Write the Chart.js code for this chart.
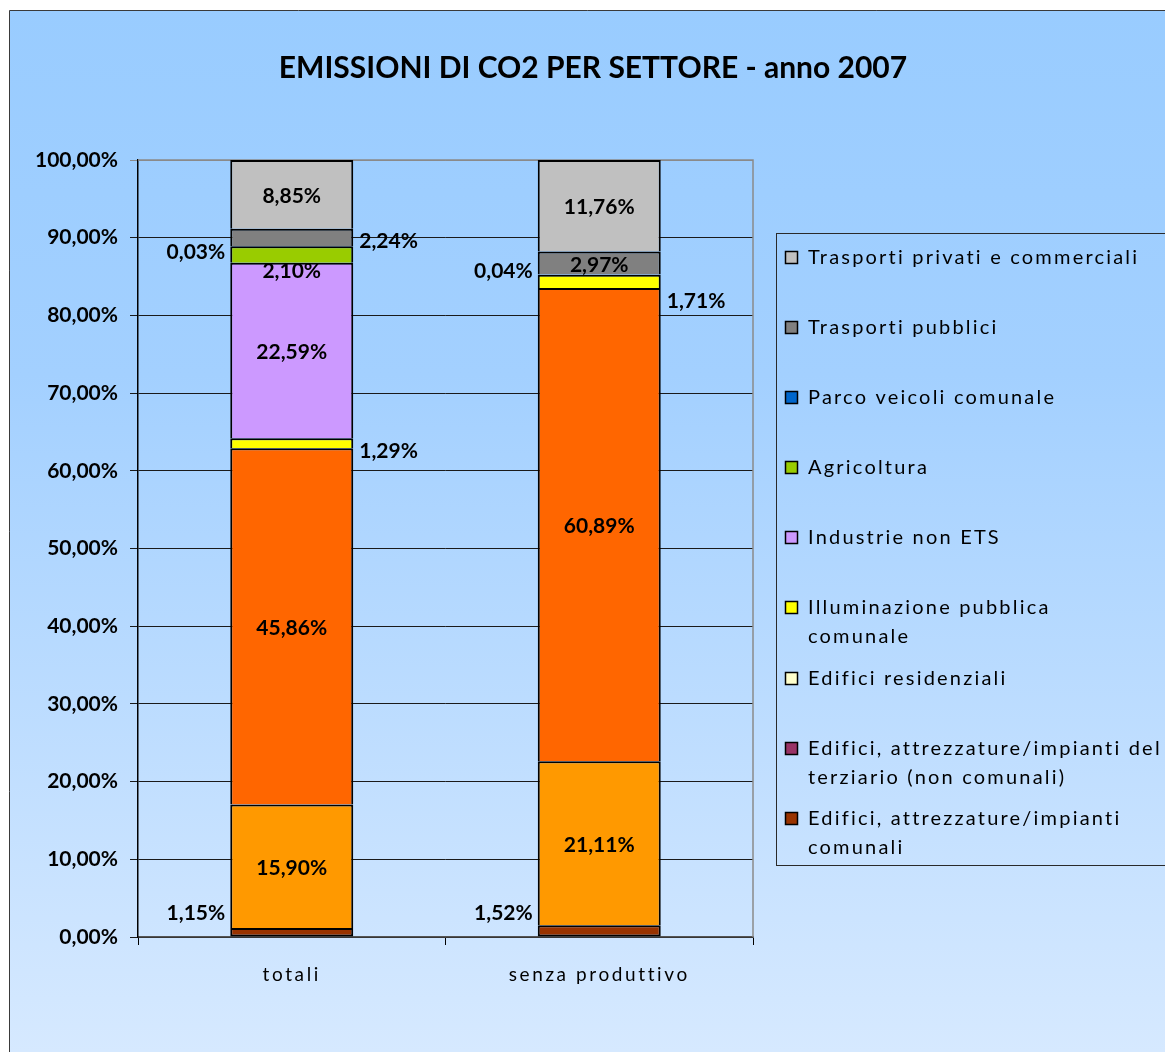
<!DOCTYPE html>
<html>
<head>
<meta charset="utf-8">
<title>Emissioni di CO2 per settore - anno 2007</title>
<script src="https://cdn.jsdelivr.net/npm/chart.js@4"></script>
<style>
  html, body { margin: 0; padding: 0; background: #fff; }
  canvas { display: block; }
</style>
</head>
<body>
<canvas id="co2Chart" width="1165" height="1052"></canvas>
<script>
// categories and series (bottom of the stack first)
var categories = ['totali', 'senza produttivo'];
var seriesNames = [
  'Edifici, attrezzature/impianti comunali',
  'Edifici, attrezzature/impianti del terziario (non comunali)',
  'Edifici residenziali',
  'Illuminazione pubblica comunale',
  'Industrie non ETS',
  'Agricoltura',
  'Parco veicoli comunale',
  'Trasporti pubblici',
  'Trasporti privati e commerciali'
];
var edificiComunali = [1.15, 1.52];
var edificiTerziario = [15.90, 21.11];
var edificiResidenziali = [45.86, 60.89];
var illuminazione = [1.29, 1.71];
var industrie = [22.59, 0];
var agricoltura = [2.10, 0];
var parcoVeicoli = [0.03, 0.04];
var trasportiPubblici = [2.24, 2.97];
var trasportiPrivati = [8.85, 11.76];
var yTicks = [0, 10, 20, 30, 40, 50, 60, 70, 80, 90, 100];

var seriesValues = [edificiComunali, edificiTerziario, edificiResidenziali, illuminazione,
  industrie, agricoltura, parcoVeicoli, trasportiPubblici, trasportiPrivati];

// bar fills and legend swatches
var barColors = ['#993300', '#FF9900', '#FF6600', '#FFFF00', '#CC99FF', '#99CC00', '#0066CC', '#808080', '#C0C0C0'];
var legendColors = ['#993300', '#993366', '#FFFFCC', '#FFFF00', '#CC99FF', '#99CC00', '#0066CC', '#808080', '#C0C0C0'];
// legend rows, drawn top to bottom (wrapped lines kept apart)
var legendLines = [
  ['Trasporti privati e commerciali'],
  ['Trasporti pubblici'],
  ['Parco veicoli comunale'],
  ['Agricoltura'],
  ['Industrie non ETS'],
  ['Illuminazione pubblica', 'comunale'],
  ['Edifici residenziali'],
  ['Edifici, attrezzature/impianti del', 'terziario (non comunali)'],
  ['Edifici, attrezzature/impianti', 'comunali']
];
var legendRowY = [258, 328, 398, 468, 538, 608, 679, 749, 819];

// where each value label sits: c = inside, l = left of bar, r = right of bar; dy in px
var labelPlace = {
  '0-0': ['l', -19], '0-1': ['l', -18],
  '3-0': ['r', 8], '3-1': ['r', 20],
  '5-0': ['c', 17],
  '6-0': ['l', 6], '6-1': ['l', -3],
  '7-0': ['r', 4]
};

var FONT = 'Lato, "Open Sans", sans-serif';

function pct(v) {
  return v.toFixed(2).replace('.', ',') + '%';
}

// each segment draws its own top edge, so neighbours share a single line
var datasets = seriesNames.map(function (name, i) {
  return {
    label: name,
    data: seriesValues[i],
    backgroundColor: barColors[i],
    borderColor: '#000000',
    borderWidth: { top: 2, left: 2, right: 2, bottom: i === 0 ? 2 : 0 },
    borderSkipped: false
  };
});

var framePlugin = {
  id: 'frame',
  beforeDraw: function (chart) {
    var ctx = chart.ctx;
    ctx.save();
    ctx.fillStyle = '#ffffff';
    ctx.fillRect(0, 0, chart.width, chart.height);
    var grad = ctx.createLinearGradient(0, 10, 0, chart.height);
    grad.addColorStop(0, '#99CCFF');
    grad.addColorStop(0.35, '#A3D0FF');
    grad.addColorStop(1, '#D6E9FF');
    ctx.fillStyle = grad;
    ctx.fillRect(9.5, 10.5, chart.width, chart.height);
    ctx.strokeStyle = '#3a3a3a';
    ctx.lineWidth = 1;
    ctx.beginPath();
    ctx.moveTo(9.5, chart.height);
    ctx.lineTo(9.5, 10.5);
    ctx.lineTo(chart.width, 10.5);
    ctx.stroke();
    ctx.restore();
  },
  beforeDatasetsDraw: function (chart) {
    // grey top and right edges of the plot area
    var a = chart.chartArea, ctx = chart.ctx;
    ctx.save();
    ctx.strokeStyle = '#8a8a8a';
    ctx.lineWidth = 1.5;
    ctx.beginPath();
    ctx.moveTo(a.left, a.top);
    ctx.lineTo(a.right, a.top);
    ctx.lineTo(a.right, a.bottom);
    ctx.stroke();
    ctx.restore();
  }
};

var textPlugin = {
  id: 'texts',
  afterDraw: function (chart) {
    var ctx = chart.ctx;
    ctx.save();

    // title
    ctx.fillStyle = '#000';
    ctx.font = 'bold 30px ' + FONT;
    ctx.textAlign = 'center';
    ctx.textBaseline = 'middle';
    ctx.fillText('EMISSIONI DI CO2 PER SETTORE - anno 2007', 593, 68);

    // category labels under the axis
    var xScale = chart.scales.x;
    ctx.font = '19px ' + FONT;
    ctx.letterSpacing = '2.6px';
    categories.forEach(function (c, i) {
      ctx.fillText(c, xScale.getPixelForValue(i), 975);
    });

    // value labels
    ctx.letterSpacing = '0px';
    ctx.font = 'bold 21px ' + FONT;
    chart.data.datasets.forEach(function (ds, d) {
      var meta = chart.getDatasetMeta(d);
      meta.data.forEach(function (bar, i) {
        var v = ds.data[i];
        if (!v) return;
        var p = bar.getProps(['x', 'y', 'base', 'width']);
        var place = labelPlace[d + '-' + i] || ['c', 2];
        var cy = (p.y + p.base) / 2 + place[1];
        var x = p.x;
        if (place[0] === 'l') {
          ctx.textAlign = 'right';
          x = p.x - p.width / 2 - 5;
        } else if (place[0] === 'r') {
          ctx.textAlign = 'left';
          x = p.x + p.width / 2 + 6;
        } else {
          ctx.textAlign = 'center';
        }
        ctx.fillText(pct(v), x, cy);
      });
    });

    // legend box
    ctx.strokeStyle = '#2a2a2a';
    ctx.lineWidth = 1;
    ctx.strokeRect(776.5, 233.5, chart.width, 632);
    ctx.font = '20px ' + FONT;
    ctx.letterSpacing = '2.2px';
    ctx.textAlign = 'left';
    legendLines.forEach(function (lines, row) {
      var idx = seriesNames.length - 1 - row;
      var y = legendRowY[row];
      ctx.fillStyle = legendColors[idx];
      ctx.fillRect(786, y - 6, 11, 11);
      ctx.strokeStyle = '#000';
      ctx.lineWidth = 1.5;
      ctx.strokeRect(785.5, y - 6.5, 12, 12);
      ctx.fillStyle = '#000';
      lines.forEach(function (t, k) {
        ctx.fillText(t, 808, y + k * 29);
      });
    });
    ctx.restore();
  }
};

var ctx = document.getElementById('co2Chart').getContext('2d');
var chart = new Chart(ctx, {
  type: 'bar',
  data: {
    labels: categories,
    datasets: datasets
  },
  options: {
    responsive: false,
    animation: false,
    layout: {
      padding: { left: 10, top: 160, right: 412, bottom: 75 }
    },
    datasets: {
      bar: { categoryPercentage: 1, barPercentage: 0.4 }
    },
    scales: {
      x: {
        stacked: true,
        grid: { drawOnChartArea: false, color: '#000', tickLength: 8 },
        border: { color: '#555', width: 1.5 },
        ticks: { display: false },
        afterFit: function (scale) { scale.height = 40; }
      },
      y: {
        stacked: true,
        min: 0,
        max: 100,
        afterBuildTicks: function (scale) {
          scale.ticks = yTicks.map(function (v) { return { value: v }; });
        },
        grid: {
          color: function (c) { return c.tick && c.tick.value === 100 ? '#8a8a8a' : '#1a1a1a'; },
          lineWidth: 1,
          tickLength: 8
        },
        border: { color: '#000', width: 1.5 },
        ticks: {
          color: '#000',
          padding: 12,
          font: { family: FONT, size: 21, weight: 'bold' },
          callback: function (v) { return pct(v); }
        },
        afterFit: function (scale) { scale.width = 128; }
      }
    },
    plugins: {
      legend: { display: false },
      title: { display: false },
      tooltip: { enabled: false }
    }
  },
  plugins: [framePlugin, textPlugin]
});
</script>
</body>
</html>
